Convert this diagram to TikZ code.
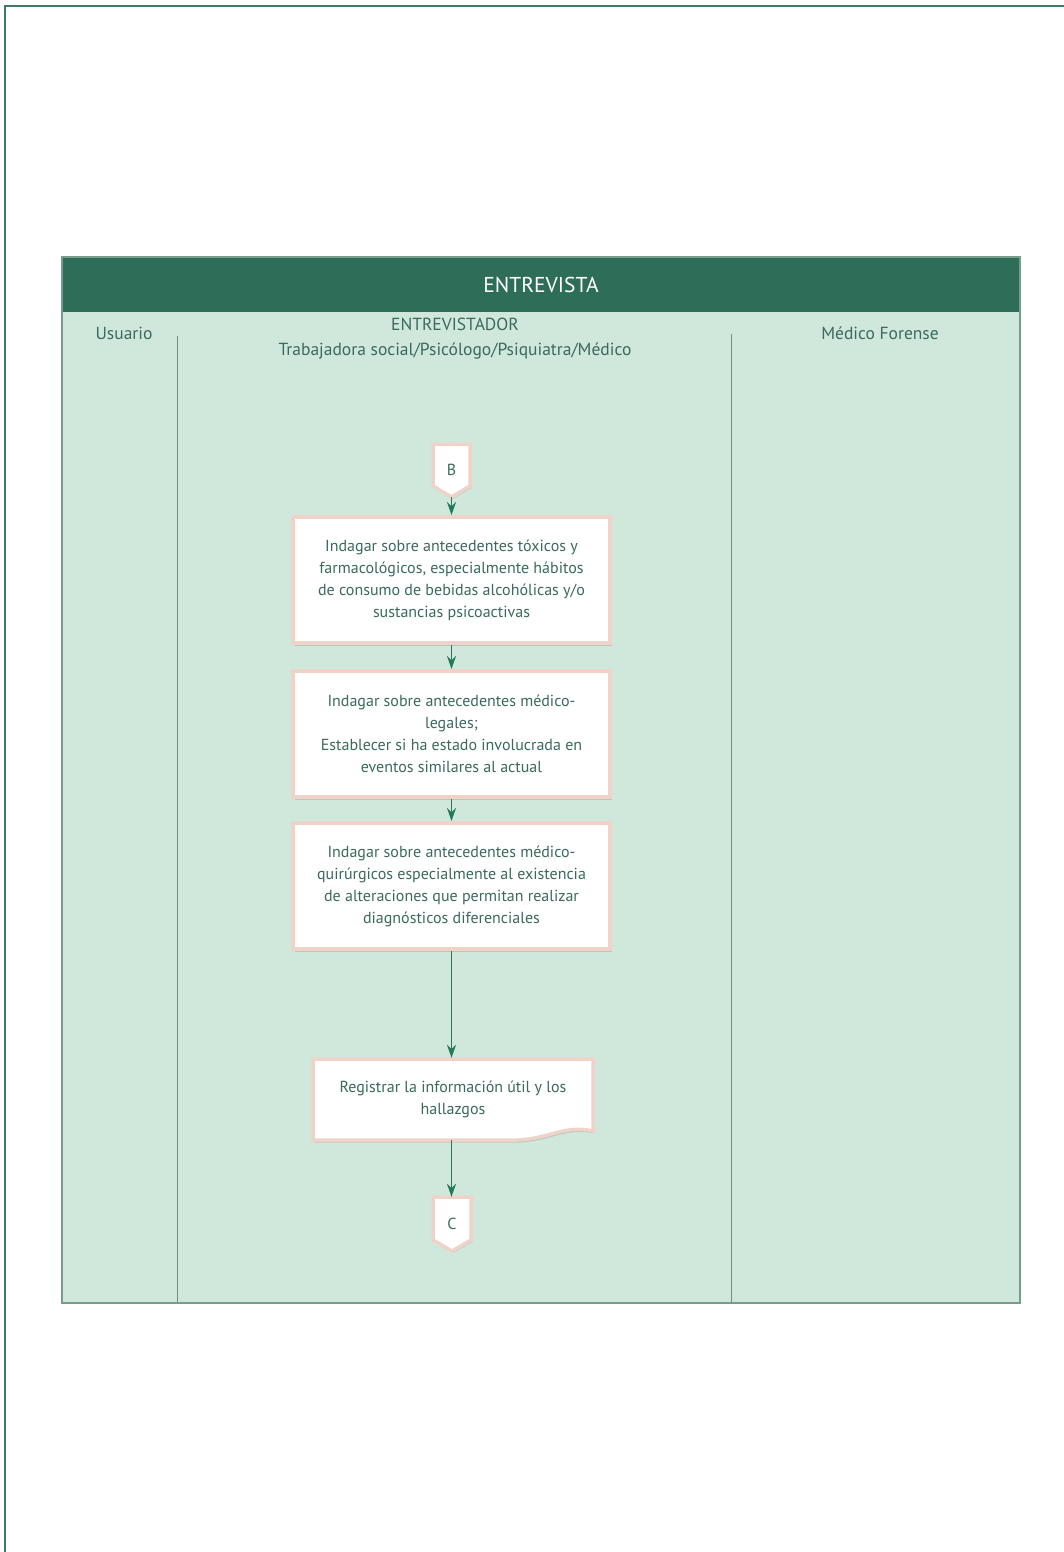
\documentclass[tikz,border=0pt]{standalone}
\usepackage{fontspec}
\setmainfont{PT Sans}
\usetikzlibrary{arrows.meta,shadows}
\definecolor{frame}{HTML}{3F7A64}
\definecolor{band}{HTML}{2E6E59}
\definecolor{lane}{HTML}{D0E8DB}
\definecolor{laneedge}{HTML}{789C8C}
\definecolor{divider}{HTML}{6F8F80}
\definecolor{ink}{HTML}{3B6A5C}
\definecolor{boxedge}{HTML}{EFD3C8}
\definecolor{flow}{HTML}{227A56}
\begin{document}
\begin{tikzpicture}[x=1pt,y=-1pt,
  txt/.style={text=ink, font=\fontsize{16}{22}\selectfont, align=center, inner sep=0pt},
  lanelabel/.style={text=ink, font=\fontsize{17.5}{25}\selectfont, align=center, inner sep=0pt},
  stepbox/.style={txt, draw=boxedge, line width=4pt, fill=white,
    minimum width=317pt, minimum height=126pt,
    drop shadow={shadow xshift=1.5pt, shadow yshift=-2.5pt, opacity=0.3}},
  shapeline/.style={draw=boxedge, line width=3.5pt, fill=white},
  flowarrow/.style={draw=flow, line width=1.5pt, -{Stealth[length=13pt,width=9pt]}}
]
\useasboundingbox (0,0) rectangle (1064,1552);
\fill[white] (0,0) rectangle (1064,1552);

% page frame
\draw[frame, line width=2.5pt] (5,1552) -- (5,6) -- (1064,6);

% swimlane panel and header band
\fill[lane] (62,257) rectangle (1020,1303);
\fill[band] (62,257) rectangle (1020,312);
\draw[laneedge, line width=1.5pt] (62,257) rectangle (1020,1303);
\node[text=white, font=\fontsize{21.5}{25}\selectfont, inner sep=0pt] (title) at (541,285) {ENTREVISTA};

% lane dividers
\draw[divider, line width=1pt] (177,336) -- (177,1302);
\draw[divider, line width=1pt] (731,334) -- (731,1302);

% lane headings
\node[lanelabel] (usuario) at (124,333) {Usuario};
\node[lanelabel] (entrevistador) at (455,339) {ENTREVISTADOR\\Trabajadora social/Psicólogo/Psiquiatra/Médico};
\node[lanelabel] (forense) at (880,333) {Médico Forense};

% off-page connector B
\filldraw[shapeline, drop shadow={shadow xshift=1.5pt, shadow yshift=-2pt, opacity=0.2}]
  (433,444) -- (470,444) -- (470,486) -- (451.5,497) -- (433,486) -- cycle;
\node[txt, minimum width=37pt, minimum height=54pt] (B) at (451.5,470) {B};

% process steps
\node[stepbox] (s1) at (451.5,580) {Indagar sobre antecedentes tóxicos y\\farmacológicos, especialmente hábitos\\de consumo de bebidas alcohólicas y/o\\sustancias psicoactivas};
\node[stepbox] (s2) at (451.5,734) {Indagar sobre antecedentes médico-\\legales;\\Establecer si ha estado involucrada en\\eventos similares al actual};
\node[stepbox] (s3) at (451.5,886) {Indagar sobre antecedentes médico-\\quirúrgicos especialmente al existencia\\de alteraciones que permitan realizar\\diagnósticos diferenciales};

% document shape
\filldraw[shapeline, drop shadow={shadow xshift=1.5pt, shadow yshift=-2.5pt, opacity=0.3}]
  (313,1059) -- (593,1059) -- (593,1131)
  .. controls (560,1124) and (548,1142) .. (505,1140) -- (313,1140) -- cycle;
\node[txt, minimum width=280pt, minimum height=82pt] (doc) at (453,1099) {Registrar la información útil y los\\hallazgos};

% off-page connector C
\filldraw[shapeline, drop shadow={shadow xshift=1.5pt, shadow yshift=-2pt, opacity=0.2}]
  (433,1197) -- (471,1197) -- (471,1240) -- (452,1251) -- (433,1240) -- cycle;
\node[txt, minimum width=38pt, minimum height=54pt] (C) at (452,1224) {C};

% flow connectors
\draw[flowarrow] (B.south) -- (s1.north);
\draw[flowarrow] (s1.south) -- (s2.north);
\draw[flowarrow] (s2.south) -- (s3.north);
\draw[flowarrow] (s3.south) -- (doc.north -| s3.south);
\draw[flowarrow] (doc.south -| s3.south) -- (C.north -| s3.south);
\end{tikzpicture}
\end{document}
